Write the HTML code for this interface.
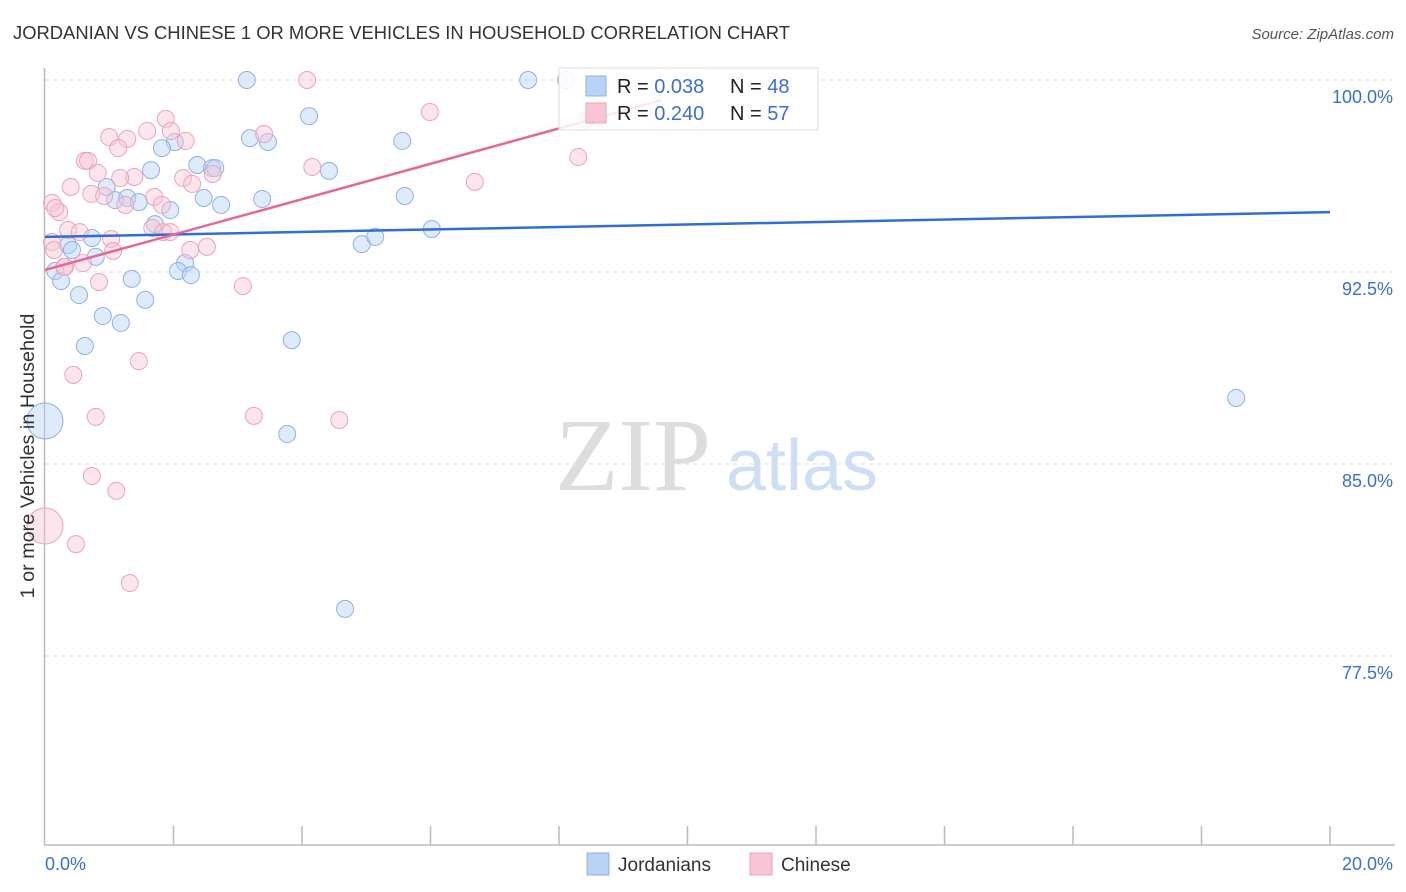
<!DOCTYPE html>
<html><head><meta charset="utf-8"><style>
body{margin:0;background:#fff;font-family:"Liberation Sans",sans-serif;}
svg{display:block}
</style></head><body>
<svg id="chart" width="1406" height="892">
<text x="13" y="39" font-size="18.4" fill="#333">JORDANIAN VS CHINESE 1 OR MORE VEHICLES IN HOUSEHOLD CORRELATION CHART</text>
<text x="1394" y="39" font-size="15" fill="#555" font-style="italic" text-anchor="end">Source: ZipAtlas.com</text>
<g><text x="633" y="490" font-size="104" fill="#ddd" font-family="Liberation Serif,serif" text-anchor="middle">ZIP</text><text x="802" y="490" font-size="72" fill="#cfdff3" text-anchor="middle">atlas</text></g>
<g id="grid"></g><g id="axes"></g><g id="marks"></g><g id="lines"></g>
<text x="34" y="456" font-size="19.8" fill="#333" text-anchor="middle" transform="rotate(-90 34 456)">1 or more Vehicles in Household</text>
<g>
<rect x="559" y="68" width="259" height="62" fill="#fff" fill-opacity="0.85" stroke="#ddd"/>
<rect x="586" y="76" width="20" height="20" fill="#b9d3f5" stroke="#8bb3e8"/>
<rect x="586" y="103" width="20" height="20" fill="#f9c5d5" stroke="#eda3bb"/>
<text x="617" y="93" font-size="20" fill="#222">R = <tspan fill="#3a6fd0">0.038</tspan></text>
<text x="730" y="93" font-size="20" fill="#222">N = <tspan fill="#3a6fd0">48</tspan></text>
<text x="617" y="120" font-size="20" fill="#222">R = <tspan fill="#3a6fd0">0.240</tspan></text>
<text x="730" y="120" font-size="20" fill="#222">N = <tspan fill="#3a6fd0">57</tspan></text>
</g>
<g>
<rect x="587" y="853" width="22" height="22" fill="#b9d3f5" stroke="#8bb3e8"/>
<text x="618" y="871" font-size="19" fill="#333">Jordanians</text>
<rect x="750" y="853" width="22" height="22" fill="#f9c5d5" stroke="#eda3bb"/>
<text x="781" y="871" font-size="19" fill="#333">Chinese</text>
</g>
</svg>
<script>
const blueX=[3.14,7.52,8.11,4.11,3.19,3.47,5.56,2.02,1.82,2.37,2.60,2.65,1.65,4.42,0.96,1.09,1.28,1.46,2.47,2.74,3.38,5.60,1.95,1.71,6.02,0.73,0.36,0.42,4.93,5.14,0.79,2.18,2.07,2.27,0.16,0.25,1.35,0.53,1.56,0.90,1.18,3.84,0.62,18.54,0,3.77,4.67,8.42];
const blueY=[100,100,100,98.59,97.73,97.58,97.62,97.58,97.34,96.68,96.56,96.56,96.48,96.45,95.82,95.31,95.39,95.23,95.39,95.12,95.35,95.47,94.92,94.37,94.18,93.83,93.55,93.36,93.59,93.87,93.09,92.85,92.54,92.38,92.54,92.15,92.23,91.60,91.41,90.78,90.51,89.84,89.61,87.58,86.68,86.17,79.34,98.44];
const pinkX=[4.08,5.99,1.88,1.96,1.00,1.28,1.59,2.19,1.14,3.41,0.62,0.67,0.82,1.39,1.17,0.40,0.72,0.92,1.25,2.15,2.29,2.61,4.16,6.69,8.30,1.70,1.82,0.11,0.22,0.36,0.54,1.67,1.84,1.95,0.11,0.14,1.03,1.06,2.26,2.52,0.59,0.31,0.84,3.08,1.46,0.44,0.79,3.25,4.58,0.73,1.11,0,0.48,1.32,8.42,0.16,0.30];
const pinkY=[100,98.75,98.48,98.01,97.77,97.70,98.01,97.62,97.34,97.89,96.84,96.84,96.37,96.21,96.17,95.82,95.55,95.47,95.12,96.17,95.94,96.33,96.60,96.02,96.99,95.43,95.12,95.20,94.84,94.14,94.06,94.22,94.06,94.06,93.67,93.36,93.79,93.32,93.36,93.48,92.85,92.70,92.11,91.95,89.02,88.48,86.84,86.88,86.72,84.53,83.95,82.58,81.87,80.35,98.44,95.0,92.7];
const blueBig=[44], pinkBig=[51];
const blueTrend=[93.87,94.84]; // y at x=0 and x=20
const pinkTrend=[92.58,99.49]; // y at x=0 and x=10
const pinkTrendEnd=9.6;
const yTicks=[100,92.5,85,77.5];
const yTickLabels=["100.0%","92.5%","85.0%","77.5%"];
const xTickLabels=["0.0%","20.0%"];
const NS="http://www.w3.org/2000/svg";
const sx=v=>45+v*64.25, sy=v=>80+(100-v)*25.6;
function mk(p,t,a){const e=document.createElementNS(NS,t);for(const k in a)e.setAttribute(k,a[k]);document.getElementById(p).appendChild(e);return e;}
yTicks.forEach((t,i)=>{
 const g=mk('grid','line',{x1:45,x2:1395,y1:sy(t),y2:sy(t),stroke:'#ddd','stroke-dasharray':'4,4'});
 
 
 const l=mk('axes','text',{x:1393,y:sy(t)+23,'font-size':18,fill:'#3a6fd0','text-anchor':'end'});l.textContent=yTickLabels[i];
 
 
});
let a=mk('axes','line',{x1:44.5,x2:44.5,y1:68,y2:845,stroke:'#bbb','stroke-width':1.5});


a=mk('axes','line',{x1:44,x2:1395,y1:845,y2:845,stroke:'#bbb','stroke-width':1.5});


for(let k=1;k<=10;k++){const t=mk('axes','line',{x1:45+k*128.5,x2:45+k*128.5,y1:826,y2:845,stroke:'#bbb','stroke-width':1.5});
 
 }
let xl=mk('axes','text',{x:45,y:870,'font-size':18,fill:'#3a6fd0'});xl.textContent=xTickLabels[0];


xl=mk('axes','text',{x:1393,y:870,'font-size':18,fill:'#3a6fd0','text-anchor':'end'});xl.textContent=xTickLabels[1];


function pts(X,Y,big,fill,stroke,name){X.forEach((x,i)=>{
 const c=mk('marks','circle',{cx:sx(x),cy:sy(Y[i]),r:big.includes(i)?18:8.5,fill:fill,'fill-opacity':0.45,stroke:stroke,'stroke-width':1});
 
 });}
pts(blueX,blueY,blueBig,'#b9d3f5','#8db2e6','jordanian-point');
pts(pinkX,pinkY,pinkBig,'#f9c5d5','#eba3bd','chinese-point');
let tl=mk('lines','line',{x1:sx(0),y1:sy(blueTrend[0]),x2:sx(20),y2:sy(blueTrend[1]),stroke:'#2f6fd3','stroke-width':2.5});


const pe=pinkTrend[0]+(pinkTrend[1]-pinkTrend[0])*pinkTrendEnd/10;
tl=mk('lines','line',{x1:sx(0),y1:sy(pinkTrend[0]),x2:sx(pinkTrendEnd),y2:sy(pe),stroke:'#e5679a','stroke-width':2.5});


</script>
</body></html>
